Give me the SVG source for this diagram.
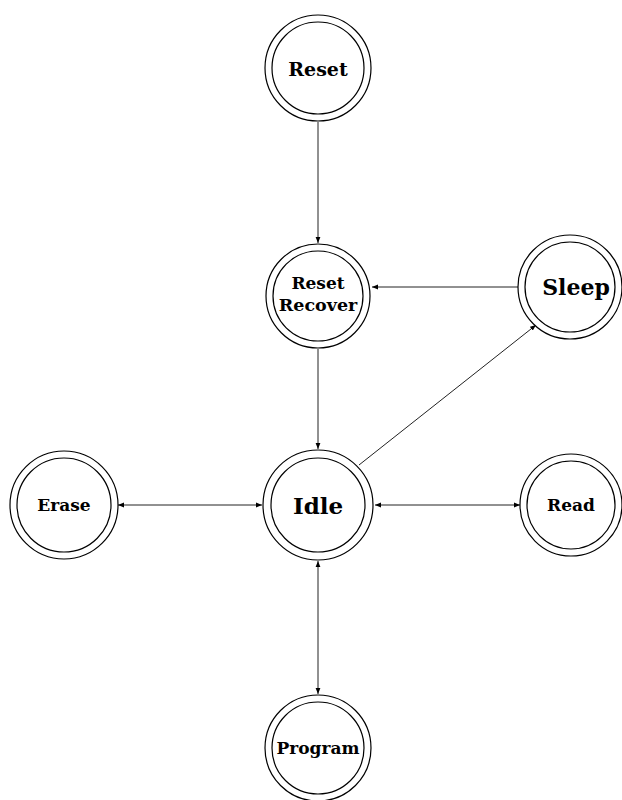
<svg xmlns="http://www.w3.org/2000/svg" width="622" height="800" viewBox="0 0 622 800">
<style>
.o{fill:#fff;stroke:#000;stroke-width:1.2}
.i{fill:none;stroke:#000;stroke-width:1.2}
.t{font-family:"DejaVu Serif","Liberation Serif",serif;font-weight:bold;text-anchor:middle;fill:#000}
.e{stroke:#222;stroke-width:1;fill:none}
</style>
<defs>
<marker id="a" viewBox="0 0 10 10" refX="10" refY="5" markerWidth="6" markerHeight="6" orient="auto-start-reverse" markerUnits="userSpaceOnUse">
<path d="M0,1 L10,5 L0,9 z" fill="#000"/>
</marker>
</defs>
<g id="connectors">
<line class="e" x1="318" y1="122" x2="318" y2="243" marker-end="url(#a)"/>
<line class="e" x1="518" y1="287" x2="372" y2="287" marker-end="url(#a)"/>
<line class="e" x1="318" y1="349" x2="318" y2="449" marker-end="url(#a)"/>
<line class="e" x1="359" y1="465" x2="536" y2="325" marker-end="url(#a)"/>
<line class="e" x1="118" y1="505" x2="262" y2="505" marker-start="url(#a)" marker-end="url(#a)"/>
<line class="e" x1="375" y1="505" x2="520" y2="505" marker-start="url(#a)" marker-end="url(#a)"/>
<line class="e" x1="318" y1="561" x2="318" y2="694" marker-start="url(#a)" marker-end="url(#a)"/>
</g>
<g id="reset">
<circle class="o" cx="318" cy="68" r="53"/><circle class="i" cx="318" cy="68" r="46"/>
<text class="t" x="318" y="76" font-size="19">Reset</text>
</g>
<g id="reset-recover">
<circle class="o" cx="318" cy="296" r="52"/><circle class="i" cx="318" cy="296" r="45"/>
<text class="t" x="318" y="289" font-size="17">Reset</text>
<text class="t" x="318" y="311" font-size="17.5">Recover</text>
</g>
<g id="sleep">
<circle class="o" cx="570" cy="287" r="52"/><circle class="i" cx="570" cy="287" r="45"/>
<text class="t" x="576" y="295" font-size="22">Sleep</text>
</g>
<g id="idle">
<circle class="o" cx="318" cy="505" r="55"/><circle class="i" cx="318" cy="505" r="47"/>
<text class="t" x="318" y="514" font-size="23">Idle</text>
</g>
<g id="erase">
<circle class="o" cx="64" cy="505" r="54"/><circle class="i" cx="64" cy="505" r="47"/>
<text class="t" x="64" y="511" font-size="17">Erase</text>
</g>
<g id="read">
<circle class="o" cx="571" cy="505" r="51"/><circle class="i" cx="571" cy="505" r="44"/>
<text class="t" x="571" y="511" font-size="17">Read</text>
</g>
<g id="program">
<circle class="o" cx="318" cy="748" r="53"/><circle class="i" cx="318" cy="748" r="46"/>
<text class="t" x="318" y="754" font-size="17">Program</text>
</g>
</svg>
